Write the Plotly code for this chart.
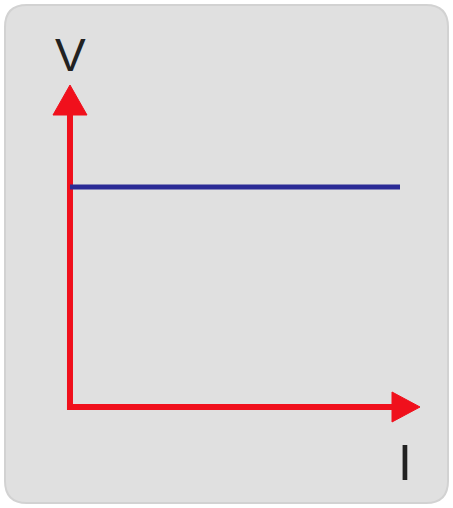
import plotly.graph_objects as go

# Data: constant voltage vs current
current = [0.0, 1.0]
voltage = [0.683, 0.683]
axis_labels = ["V", "I"]

W, H = 453, 508
# axis mapping (data units)
x_range = [-0.2121, 1.1606]
y_range = [-0.3137, 1.264]
px_x = W / (x_range[1] - x_range[0])
px_y = H / (y_range[1] - y_range[0])

red = "#f0101c"
fig = go.Figure()

# rounded background panel (paper coords)
x0, x1, y0, y1, r = 5 / W, 448 / W, 1 - 503 / H, 1 - 5 / H, 22
rx, ry = r / W, r / H
path = (f"M {x0+rx},{y0} L {x1-rx},{y0} Q {x1},{y0} {x1},{y0+ry} "
        f"L {x1},{y1-ry} Q {x1},{y1} {x1-rx},{y1} L {x0+rx},{y1} "
        f"Q {x0},{y1} {x0},{y1-ry} L {x0},{y0+ry} Q {x0},{y0} {x0+rx},{y0} Z")
fig.add_shape(type="path", path=path, xref="paper", yref="paper",
              fillcolor="#e0e0e0", line=dict(color="#d2d2d2", width=2), layer="below")

# axes arrows
v_tip = 1.0
v_base = v_tip - 30 / px_y
h_tip = 1.0606
h_base = h_tip - 28 / px_x
fig.add_trace(go.Scatter(x=[0, 0], y=[-3 / px_y, v_base + 2 / px_y], mode="lines",
                         line=dict(color=red, width=6), hoverinfo="skip"))
fig.add_trace(go.Scatter(x=[-3 / px_x, h_base + 2 / px_x], y=[0, 0], mode="lines",
                         line=dict(color=red, width=6), hoverinfo="skip"))
hw = 17 / px_x
fig.add_trace(go.Scatter(x=[-hw, hw, 0, -hw], y=[v_base, v_base, v_tip, v_base],
                         mode="lines", fill="toself", fillcolor=red,
                         line=dict(color=red, width=1), hoverinfo="skip"))
hh = 15 / px_y
fig.add_trace(go.Scatter(x=[h_base, h_base, h_tip, h_base], y=[-hh, hh, 0, -hh],
                         mode="lines", fill="toself", fillcolor=red,
                         line=dict(color=red, width=1), hoverinfo="skip"))

# constant voltage line
fig.add_trace(go.Scatter(x=current, y=voltage, mode="lines",
                         line=dict(color="#2b2b96", width=5), hoverinfo="skip"))

# labels
fig.add_annotation(x=0.003, y=1.093, text=axis_labels[0], showarrow=False,
                   font=dict(family="Liberation Sans", size=46, color="#222222"))
fig.add_annotation(x=1.015, y=-0.174, text=axis_labels[1], showarrow=False,
                   font=dict(family="Liberation Sans", size=50, color="#222222"))

fig.update_layout(width=W, height=H, margin=dict(l=0, r=0, t=0, b=0),
                  paper_bgcolor="white", plot_bgcolor="rgba(0,0,0,0)",
                  showlegend=False,
                  xaxis=dict(range=x_range, visible=False, fixedrange=True),
                  yaxis=dict(range=y_range, visible=False, fixedrange=True))
fig.write_html("out.html", config={"displayModeBar": False},
               post_script="document.body.style.margin='0';document.body.style.overflow='hidden';")
